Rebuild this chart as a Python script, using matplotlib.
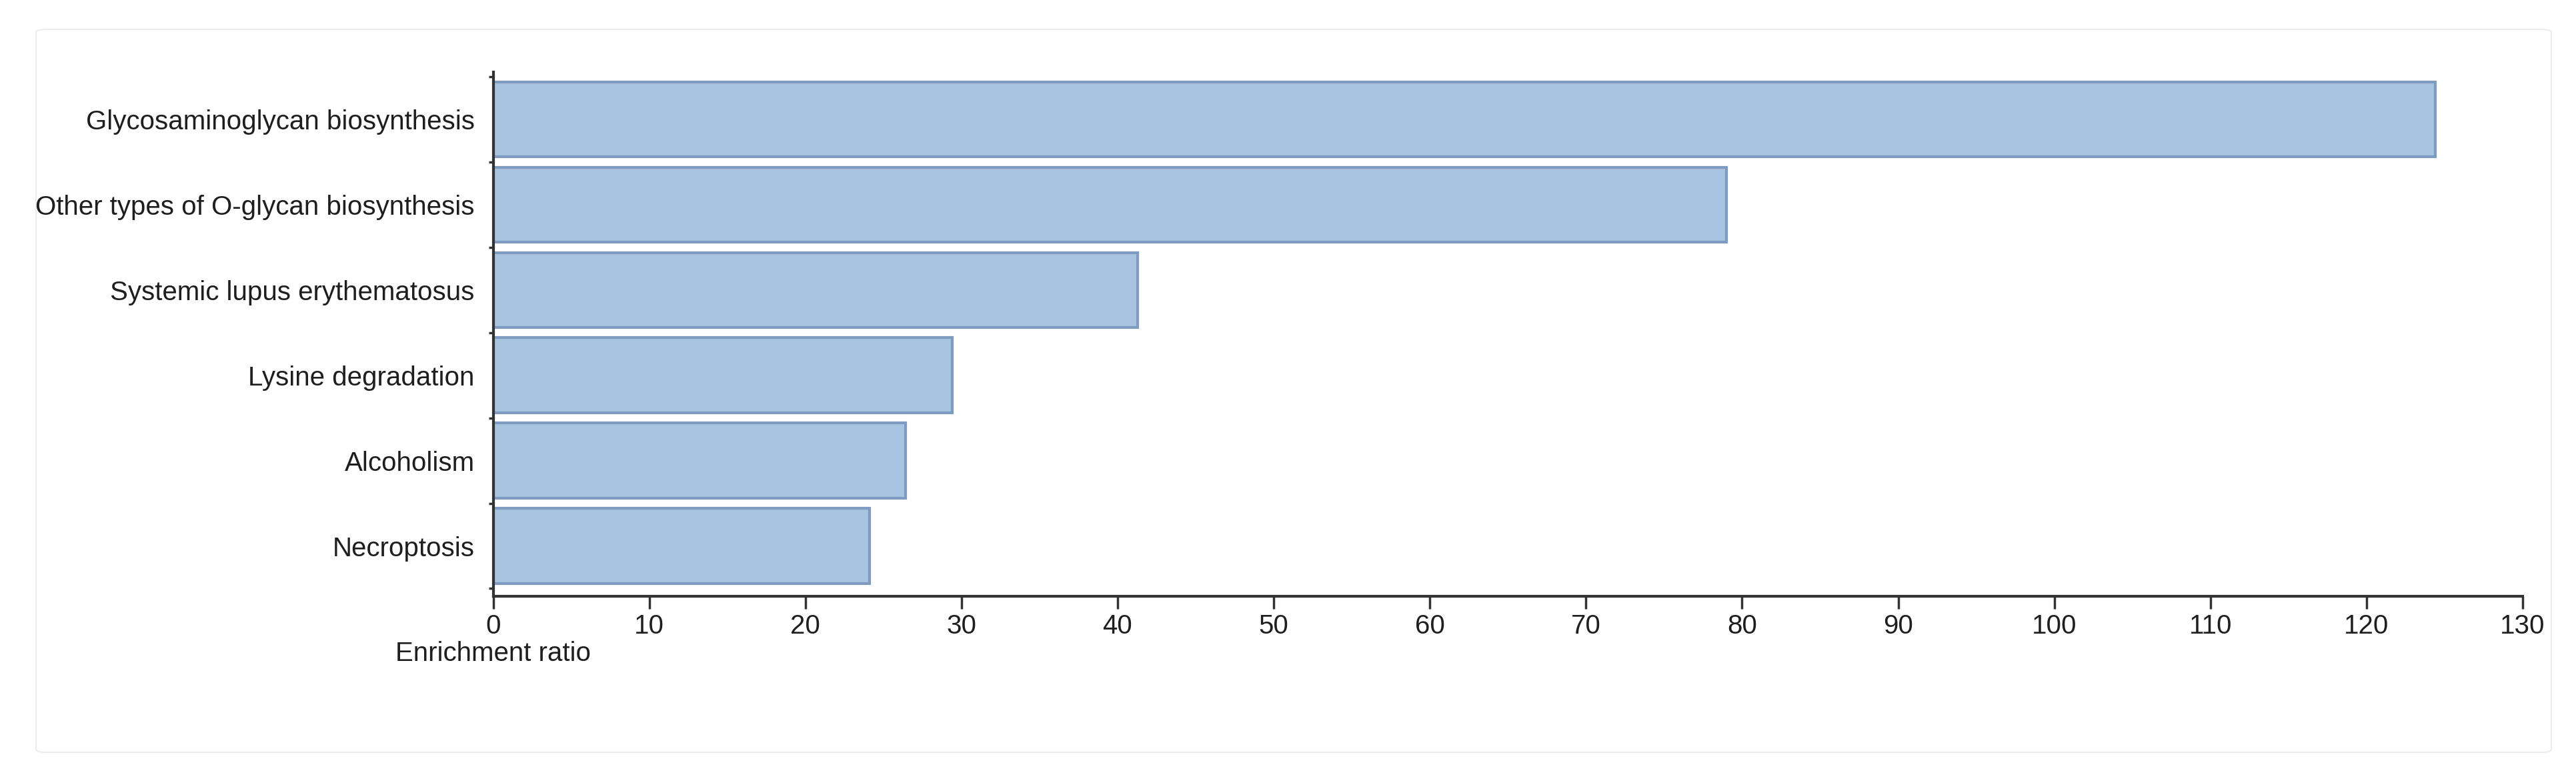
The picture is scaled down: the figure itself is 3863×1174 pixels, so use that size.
import matplotlib
matplotlib.use("Agg")
import matplotlib.pyplot as plt
from matplotlib.patches import FancyBboxPatch

# Daten
pathways = [
    "Glycosaminoglycan biosynthesis",
    "Other types of O-glycan biosynthesis",
    "Systemic lupus erythematosus",
    "Lysine degradation",
    "Alcoholism",
    "Necroptosis",
]
enrichment = [124.4, 79.0, 41.3, 29.4, 26.4, 24.1]
xticks = list(range(0, 131, 10))

plt.rcParams["font.family"] = ["Liberation Sans", "DejaVu Sans"]
fs = 29

fig = plt.figure(figsize=(38.63, 11.74), dpi=100)

# heller Rahmen um das Diagramm
frame = FancyBboxPatch((54 / 3863, 1 - 1128 / 1174), (3826 - 54) / 3863, (1128 - 44) / 1174,
                       boxstyle="round,pad=0,rounding_size=0.004", transform=fig.transFigure,
                       facecolor="none", edgecolor="#ececec", linewidth=1.5, zorder=-10)
fig.patches.append(frame)

ax = fig.add_axes([739.5 / 3863, 1 - 894 / 1174, (3783 - 739.5) / 3863, (894 - 108) / 1174])
ax.set_facecolor("none")
ax.set_zorder(5)

pos = list(range(len(pathways)))
ax.barh(pos, enrichment, height=0.88, color="#a9c4e0", edgecolor="#7f9cc0", linewidth=3)

ax.set_xlim(0, 130)
ax.set_ylim(5.59, -0.555)
ax.set_xticks(xticks)
ax.set_xticklabels([str(t) for t in xticks], fontsize=fs, color="#1e1e1e")
ax.tick_params(axis="x", length=14, width=2.5, color="#333333", pad=5)

ax.set_yticks(pos)
ax.set_yticklabels(pathways, fontsize=fs, color="#1e1e1e")
ax.tick_params(axis="y", length=0, pad=20)
# kleine Striche zwischen den Balken
ax.set_yticks([p + 0.5 for p in [-1] + pos], minor=True)
ax.tick_params(axis="y", which="minor", length=5, width=2.5, color="#333333")

for side in ["top", "right"]:
    ax.spines[side].set_visible(False)
for side in ["left", "bottom"]:
    ax.spines[side].set_linewidth(3)
    ax.spines[side].set_color("#333333")

ax.set_xlabel("Enrichment ratio", fontsize=fs, color="#1e1e1e")
ax.xaxis.set_label_coords(0, -0.085)

plt.savefig("out.png", dpi=100, facecolor="white")
